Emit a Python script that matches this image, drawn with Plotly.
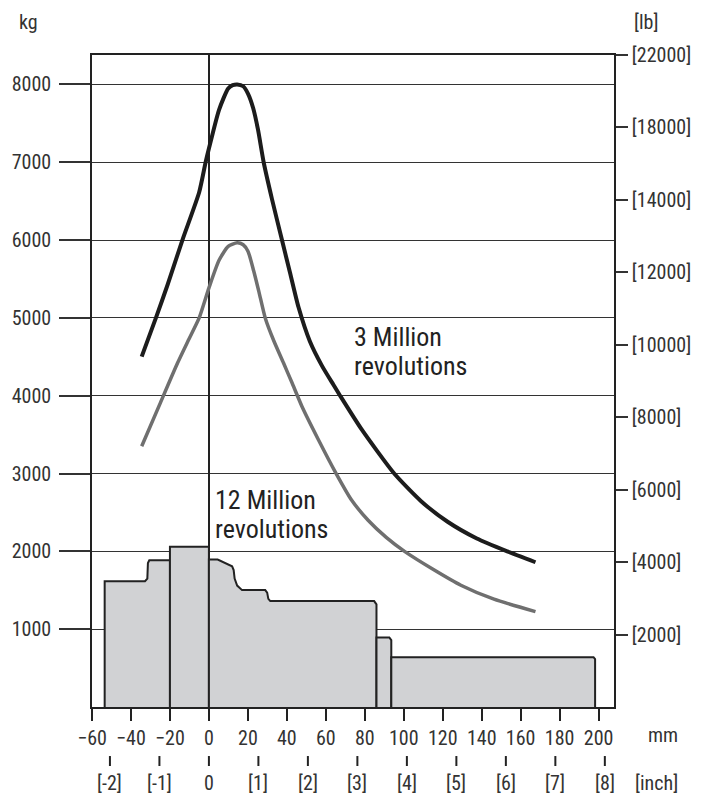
import plotly.graph_objects as go

# Load curves (x in mm, load in kg)
curve_3m_mm = [-34.5, -27.2, -21.2, -13.6, -5.0, -1.7, 0.1, 5.2, 9.9, 12.2, 14.5, 17.6, 20.1, 22.7,
               25.2, 28.1, 32.4, 37.5, 41.6, 46.0, 51.8, 57.9, 63.9, 67.1, 78.3, 95.1, 108.9,
               122.5, 137.5, 153.1, 167.6]
curve_3m_kg = [4502, 5000, 5426, 6000, 6614, 7000, 7185, 7674, 7948, 7990, 8000, 7976, 7879, 7697,
               7418, 7000, 6523, 6000, 5584, 5136, 4700, 4390, 4140, 4010, 3570, 3000, 2645,
               2380, 2165, 2000, 1860]

curve_12m_mm = [-34.5, -25.3, -16.1, -10.5, -5.0, 0.1, 5.2, 9.9, 14.5, 17.6, 20.1, 23.0, 25.7, 28.9,
                33.4, 38.3, 42.6, 47.7, 56.4, 65.3, 73.2, 81.7, 91.0, 100.4, 115.0, 129.3, 146.3, 167.6]
curve_12m_kg = [3350, 3886, 4420, 4715, 5000, 5392, 5740, 5918, 5965, 5940, 5854, 5602, 5332, 5000,
                4700, 4420, 4169, 3865, 3425, 3000, 2660, 2400, 2180, 2000, 1770, 1565, 1385, 1225]

# Static load outline, one closed block each
block_a_mm = [-53.5, -53.5, -32.8, -31.6, -31.3, -30.6, -20, -20]
block_a_kg = [0, 1617, 1617, 1650, 1850, 1885, 1885, 0]
block_b_mm = [-20, -20, 0, 0]
block_b_kg = [0, 2060, 2060, 0]
block_c_mm = [0, 0, 4.5, 11.9, 12.7, 13.2, 14.5, 17.0, 28.9, 29.9, 30.5, 31.5, 84.8, 86, 86]
block_c_kg = [0, 1894, 1894, 1808, 1760, 1650, 1560, 1502, 1502, 1470, 1390, 1361, 1361, 1319, 0]
block_d_mm = [86, 86, 92.6, 93.6, 93.6]
block_d_kg = [0, 894, 894, 860, 0]
block_e_mm = [93.6, 93.6, 197.4, 198.2, 198.2]
block_e_kg = [0, 640, 640, 615, 0]

# Axis ticks and labels
kg_ticks = [1000, 2000, 3000, 4000, 5000, 6000, 7000, 8000]
mm_ticks = [-60, -40, -20, 0, 20, 40, 60, 80, 100, 120, 140, 160, 180, 200]
lb_labels = ['[2000]', '[4000]', '[6000]', '[8000]', '[10000]', '[12000]', '[14000]', '[18000]', '[22000]']
inch_values = [-2, -1, 0, 1, 2, 3, 4, 5, 6, 7, 8]
inch_labels = ['[-2]', '[-1]', '0', '[1]', '[2]', '[3]', '[4]', '[5]', '[6]', '[7]', '[8]']

FONT = 'Liberation Sans Narrow, Arial Narrow, Roboto Condensed, DejaVu Sans Condensed, sans-serif'
INK = '#222222'
MM_PER_INCH = 25.4

fig = go.Figure()

# Gray blocks of the static load
for bx, by in [(block_a_mm, block_a_kg), (block_b_mm, block_b_kg), (block_c_mm, block_c_kg),
               (block_d_mm, block_d_kg), (block_e_mm, block_e_kg)]:
    fig.add_trace(go.Scatter(
        x=bx, y=by, mode='lines', fill='toself', fillcolor='#d1d2d4',
        line=dict(color=INK, width=2), hoverinfo='skip', showlegend=False
    ))

# Dynamic load curves
fig.add_trace(go.Scatter(
    x=curve_12m_mm, y=curve_12m_kg, mode='lines',
    line=dict(color='#6f6f6f', width=3.5, shape='spline', smoothing=0.6), showlegend=False
))
fig.add_trace(go.Scatter(
    x=curve_3m_mm, y=curve_3m_kg, mode='lines',
    line=dict(color='#1c1c1c', width=4, shape='spline', smoothing=0.6), showlegend=False
))

# Dummy trace so the right-hand [lb] axis is drawn
fig.add_trace(go.Scatter(x=[None], y=[None], yaxis='y2', showlegend=False))

# Curve labels, one annotation per line to keep the tight line spacing
for txt, xv, yv in [('3 Million', 73.2, 4760), ('revolutions', 73.2, 4385),
                    ('12 Million', 2.3, 2657), ('revolutions', 2.3, 2282)]:
    fig.add_annotation(x=xv, y=yv, text=txt, showarrow=False, xanchor='left', yanchor='middle',
                       font=dict(size=26, color=INK))

# Second row of x labels in inches
for val, lab in zip(inch_values, inch_labels):
    fig.add_shape(type='line', xref='x', yref='paper', x0=val * MM_PER_INCH, x1=val * MM_PER_INCH,
                  y0=-0.0752, y1=-0.0905, line=dict(color=INK, width=2))
    fig.add_annotation(x=val * MM_PER_INCH, y=-0.1166, xref='x', yref='paper', text=lab,
                       showarrow=False, xanchor='center', yanchor='middle', font=dict(size=20, color='#333'))

# Unit labels
for txt, px, py in [('kg', -0.1219, 1.0506), ('[lb]', 1.061, 1.0506), ('mm', 1.0933, -0.0429), ('[inch]', 1.082, -0.1166)]:
    fig.add_annotation(x=px, y=py, xref='paper', yref='paper', text=txt, showarrow=False,
                       xanchor='center', yanchor='middle', font=dict(size=20, color='#333'))

fig.update_layout(
    width=709, height=795,
    margin=dict(l=89, r=95, t=55, b=88),
    plot_bgcolor='white', paper_bgcolor='white',
    font=dict(family=FONT, size=20, color='#333'),
    showlegend=False,
    xaxis=dict(range=[-60, 207.9], tickvals=mm_ticks, ticks='outside', ticklen=12, tickwidth=2, tickcolor=INK,
               showline=True, linecolor=INK, linewidth=1.5, mirror=True, showgrid=False,
               zeroline=True, zerolinecolor=INK, zerolinewidth=1.5),
    yaxis=dict(range=[0, 8378], tickvals=kg_ticks, ticks='outside', ticklen=31, tickwidth=1.5, tickcolor='#333',
               showline=True, linecolor=INK, linewidth=1.5, showgrid=True, gridcolor='#333', gridwidth=1.3,
               zeroline=False, ticklabelstandoff=4),
    yaxis2=dict(overlaying='y', side='right', range=[0, 9], tickvals=list(range(1, len(lb_labels) + 1)),
                ticktext=lb_labels, ticks='outside', ticklen=12, tickwidth=1.5, tickcolor='#333',
                showline=True, linecolor=INK, linewidth=1.5, showgrid=False, zeroline=False),
)

# drop the default page margin so the figure sits at the window corner
fig.write_html('out.html', config={'displayModeBar': False},
               post_script="document.body.style.margin='0';")
